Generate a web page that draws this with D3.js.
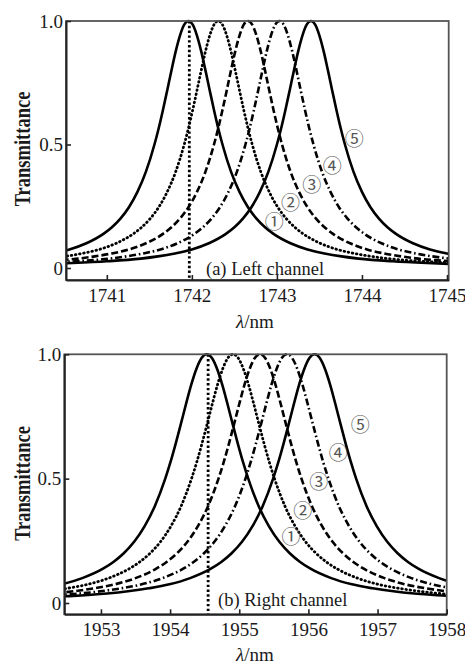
<!DOCTYPE html>
<html>
<head>
<meta charset="utf-8">
<script src="https://cdn.jsdelivr.net/npm/d3@7/dist/d3.min.js"></script>
<style>
  body { margin: 0; background: #fff; }
  svg { display: block; }
  text { font-family: "Liberation Serif", "Times New Roman", serif; fill: #1a1a1a; }
  .mark { font-family: "Noto Sans CJK SC", sans-serif; fill: #555; }
</style>
</head>
<body>
<svg id="chart" width="465" height="664"></svg>
<script>
// values
const lineStyles = ["solid", "dotted", "dashed", "dashdot", "solid"];
const markLabels = ["①", "②", "③", "④", "⑤"];
const yTicks = [0, 0.5, 1.0];

// (a) left channel: peak positions and one resonance profile (offset from peak in nm -> T)
const leftPeaks = [1741.96, 1742.31, 1742.66, 1743.03, 1743.40];
const leftOffsets = [0, 0.05, 0.1, 0.15, 0.2, 0.25, 0.3, 0.35, 0.4, 0.5, 0.6, 0.7, 0.8, 0.9, 1.0, 1.2, 1.4, 1.6, 1.8, 2.0, 2.4, 2.8, 3.2, 3.6];
const leftShape = [1, 0.985, 0.941, 0.877, 0.8, 0.719, 0.64, 0.566, 0.5, 0.39, 0.308, 0.246, 0.2, 0.165, 0.138, 0.1, 0.075, 0.059, 0.047, 0.038, 0.027, 0.02, 0.015, 0.012];
const leftTicks = [1741, 1742, 1743, 1744, 1745];
const leftMarker = 1741.97;

// (b) right channel
const rightPeaks = [1954.53, 1954.91, 1955.30, 1955.69, 1956.09];
const rightOffsets = [0, 0.075, 0.15, 0.225, 0.3, 0.375, 0.45, 0.525, 0.6, 0.75, 0.9, 1.05, 1.2, 1.35, 1.5, 1.8, 2.1, 2.4, 2.7, 3.0, 3.6, 4.2, 4.8, 5.4];
const rightShape = [1, 0.985, 0.941, 0.877, 0.8, 0.719, 0.64, 0.566, 0.5, 0.39, 0.308, 0.246, 0.2, 0.165, 0.138, 0.1, 0.075, 0.059, 0.047, 0.038, 0.027, 0.02, 0.015, 0.012];
const rightTicks = [1953, 1954, 1955, 1956, 1957, 1958];
const rightMarker = 1954.55;

const dashes = { solid: null, dotted: "0.6 3.6", dashed: "7 3", dashdot: "7 2.8 1.6 2.8" };

const panels = [
  {
    id: "a", peaks: leftPeaks, offsets: leftOffsets, shape: leftShape, ticks: leftTicks, marker: leftMarker,
    x0: 66, x1: 448.7, y0: 280, y1: 21, xDomain: [1740.52, 1745.02], yMin: -0.0486,
    caption: "(a) Left channel", capX: 206, capY: 275,
    unitY: 328, titleY: 149,
    markPos: [[1742.97, 0.194], [1743.16, 0.271], [1743.41, 0.342], [1743.65, 0.417], [1743.91, 0.53]]
  },
  {
    id: "b", peaks: rightPeaks, offsets: rightOffsets, shape: rightShape, ticks: rightTicks, marker: rightMarker,
    x0: 64.3, x1: 446.7, y0: 614.3, y1: 354.3, xDomain: [1952.47, 1958], yMin: -0.0454,
    caption: "(b) Right channel", capX: 218, capY: 605.5,
    unitY: 661, titleY: 483.5,
    markPos: [[1955.75, 0.273], [1955.92, 0.374], [1956.15, 0.491], [1956.43, 0.609], [1956.75, 0.72]]
  }
];

const svg = d3.select("#chart");

panels.forEach((p) => {
  const x = d3.scaleLinear().domain(p.xDomain).range([p.x0, p.x1]);
  const y = d3.scaleLinear().domain([p.yMin, 1]).range([p.y0, p.y1]);
  const g = svg.append("g");

  g.append("clipPath").attr("id", "clip-" + p.id)
    .append("rect")
    .attr("x", p.x0).attr("y", p.y1 - 2)
    .attr("width", p.x1 - p.x0).attr("height", p.y0 - p.y1 + 2);

  // curves
  const line = d3.line().x((d) => x(d[0])).y((d) => y(d[1])).curve(d3.curveMonotoneX);
  const curves = p.peaks.map((pk) => {
    const left = p.offsets.slice(1).map((o, i) => [pk - o, p.shape[i + 1]]).reverse();
    const right = p.offsets.map((o, i) => [pk + o, p.shape[i]]);
    return left.concat(right);
  });

  const plot = g.append("g").attr("clip-path", `url(#clip-${p.id})`);
  plot.selectAll("path.curve")
    .data(curves)
    .join("path")
    .attr("class", "curve")
    .attr("d", line)
    .attr("fill", "none")
    .attr("stroke", "#000")
    .attr("stroke-width", (d, i) => lineStyles[i] === "dotted" ? 2.8 : 2.6)
    .attr("stroke-linecap", (d, i) => lineStyles[i] === "dotted" ? "round" : "butt")
    .attr("stroke-dasharray", (d, i) => dashes[lineStyles[i]]);

  // vertical dotted marker
  plot.append("line")
    .attr("x1", x(p.marker)).attr("x2", x(p.marker))
    .attr("y1", y(1)).attr("y2", p.y0)
    .attr("stroke", "#000")
    .attr("stroke-width", 2.8)
    .attr("stroke-dasharray", "2.4 2.4");

  // frame
  g.append("rect")
    .attr("x", p.x0).attr("y", p.y1)
    .attr("width", p.x1 - p.x0).attr("height", p.y0 - p.y1)
    .attr("fill", "none").attr("stroke", "#555").attr("stroke-width", 1.8);

  // axes
  const xAxis = g.append("g")
    .attr("transform", `translate(0,${p.y0})`)
    .call(d3.axisBottom(x).tickValues(p.ticks).tickFormat(d3.format("d")).tickSizeInner(-5).tickSizeOuter(0).tickPadding(8.5));
  const yAxis = g.append("g")
    .attr("transform", `translate(${p.x0},0)`)
    .call(d3.axisLeft(y).tickValues(yTicks).tickFormat((d) => d === 0 ? "0" : d3.format(".1f")(d)).tickSizeInner(-5).tickSizeOuter(0).tickPadding(3));
  [xAxis, yAxis].forEach((ax) => {
    ax.select(".domain").attr("stroke", "#222").attr("stroke-width", 2);
    ax.selectAll(".tick line").attr("stroke", "#222").attr("stroke-width", 1.6);
    ax.selectAll(".tick text")
      .attr("fill", "#1a1a1a")
      .style("font-family", '"Liberation Serif", serif')
      .style("font-size", "19px");
  });

  // circled labels
  g.selectAll("text.mark")
    .data(p.markPos)
    .join("text")
    .attr("class", "mark")
    .attr("x", (d) => x(d[0]))
    .attr("y", (d) => y(d[1]))
    .attr("text-anchor", "middle")
    .attr("dominant-baseline", "central")
    .style("font-size", "19px")
    .text((d, i) => markLabels[i]);

  // caption in plot
  g.append("text")
    .attr("x", p.capX).attr("y", p.capY)
    .style("font-size", "18.5px")
    .text(p.caption);

  // x title
  const xt = g.append("text")
    .attr("x", 255).attr("y", p.unitY)
    .attr("text-anchor", "middle")
    .style("font-size", "19px");
  xt.append("tspan").style("font-style", "italic").text("λ");
  xt.append("tspan").text("/nm");

  // y title
  g.append("text")
    .attr("transform", `translate(30,${p.titleY}) rotate(-90) scale(1,1.2)`)
    .attr("text-anchor", "middle")
    .style("font-size", "18.5px")
    .style("font-weight", "bold")
    .text("Transmittance");
});
</script>
</body>
</html>
